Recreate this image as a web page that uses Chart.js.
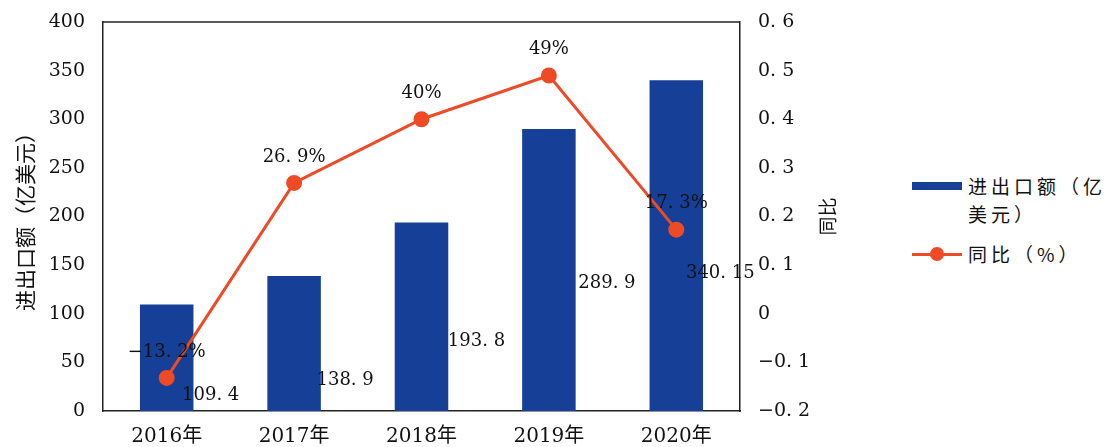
<!DOCTYPE html>
<html>
<head>
<meta charset="utf-8">
<script src="https://cdn.jsdelivr.net/npm/chart.js@4.4.0/dist/chart.umd.min.js"></script>
<style>
html,body{margin:0;padding:0;background:#fff;}
#wrap{position:relative;width:1113px;height:447px;}
#box{position:absolute;left:0;top:0;width:850px;height:447px;}
#legend{position:absolute;left:912px;top:172px;font-family:"Noto Sans CJK SC",sans-serif;font-size:19px;color:#111;}
.row{display:flex;align-items:flex-start;}
.sw{width:50px;flex:none;margin-right:6px;position:relative;height:28px;}
.txt{line-height:28px;width:150px;letter-spacing:4px;}
</style>
</head>
<body>
<div id="wrap">
<div id="box"><canvas id="chartCanvas"></canvas></div>
<div id="legend">
  <div class="row"><div class="sw"><div style="position:absolute;left:0;top:10px;width:50px;height:8px;background:#163f98;"></div></div><div class="txt">进出口额（亿<br>美元）</div></div>
  <div class="row" style="margin-top:12px;"><div class="sw"><div style="position:absolute;left:0;top:13px;width:50px;height:3px;background:#ef4a26;"></div><div style="position:absolute;left:18px;top:7px;width:14px;height:14px;border-radius:7px;background:#ef4a26;"></div></div><div class="txt">同比（%）</div></div>
</div>
</div>
<script>
const years = ['2016年','2017年','2018年','2019年','2020年'];
const tradeValues = [109.4, 138.9, 193.8, 289.9, 340.15];
const tradeLabels = ['109. 4','138. 9','193. 8','289. 9','340. 15'];
const growthValues = [-0.132, 0.269, 0.40, 0.49, 0.173];
const growthLabels = ['−13. 2%','26. 9%','40%','49%','17. 3%'];

// where the bar value labels sit, relative to each bar top (px)
const barLabelShift = [[44,91],[51,104],[55,119],[58,154],[44,193]];

const serif = '"DejaVu Serif","Liberation Serif",serif';
const cjk = '"Noto Sans CJK SC",sans-serif';

const labelPlugin = {
    id:'labels',
    afterDatasetsDraw(chart){
        const c = chart.ctx;
        const a = chart.chartArea;
        c.save();
        c.strokeStyle = '#222';
        c.lineWidth = 1.5;
        c.beginPath();
        c.moveTo(a.left, a.top);
        c.lineTo(a.right, a.top);
        c.stroke();
        c.fillStyle = '#111';
        c.font = '18px ' + serif;
        c.textAlign = 'center';
        c.textBaseline = 'middle';
        chart.getDatasetMeta(1).data.forEach((bar,i)=>{
            c.fillText(tradeLabels[i], bar.x + barLabelShift[i][0], bar.y + barLabelShift[i][1]);
        });
        chart.getDatasetMeta(0).data.forEach((pt,i)=>{
            c.fillText(growthLabels[i], pt.x, pt.y - 26);
        });
        // right axis title, reading bottom to top
        c.translate(a.right + 88, (a.top + a.bottom) / 2);
        c.rotate(-Math.PI / 2);
        c.font = '19px ' + cjk;
        c.fillText('同比', 0, 0);
        c.restore();
    }
};

const fixY = w => s => { s.width = w; s.paddingTop = 0; s.paddingBottom = 0; };

const ctx = document.getElementById('chartCanvas').getContext('2d');
const chart = new Chart(ctx, {
    type: 'bar',
    data: {
        labels: years,
        datasets: [
            { type:'line', label:'同比（%）', data: growthValues, yAxisID:'y1', borderColor:'#ef4a26', backgroundColor:'#ef4a26', borderWidth:3, pointRadius:6.5, pointHoverRadius:6.5, order:0 },
            { type:'bar', label:'进出口额（亿美元）', data: tradeValues, yAxisID:'y', backgroundColor:'#163f98', categoryPercentage:0.84, barPercentage:0.5, order:1 }
        ]
    },
    options: {
        responsive: true,
        maintainAspectRatio: false,
        animation: false,
        layout: { padding: { top: 22, right: 0, left: 0, bottom: 0 } },
        plugins: { legend: { display:false }, tooltip: { enabled:false } },
        scales: {
            x: {
                afterFit: s => { s.height = 36; s.paddingLeft = 0; s.paddingRight = 0; },
                grid: { display:false, drawTicks:false },
                border: { color:'#222', width:1.5 },
                ticks: { color:'#111', font:{ size:20, family: serif + ',"Noto Sans CJK SC"' }, padding:14 }
            },
            y: {
                position:'left', min:0, max:400,
                afterFit: fixY(103),
                grid: { display:false, drawTicks:false },
                border: { color:'#222', width:1.5 },
                ticks: { stepSize:50, color:'#111', font:{ size:19, family: serif }, padding:18 },
                title: { display:true, text:'进出口额（亿美元）', color:'#111', font:{ size:21, family: cjk }, padding:{ top:12, bottom:4 } }
            },
            y1: {
                position:'right', min:-0.2, max:0.6,
                afterFit: fixY(110),
                grid: { display:false, drawTicks:false },
                border: { color:'#222', width:1.5 },
                ticks: { stepSize:0.1, color:'#111', font:{ size:19, family: serif }, padding:18,
                    callback: v => { const r = Math.round(v*10)/10; return r === 0 ? '0' : r.toFixed(1).replace('.', '. ').replace('-', '−'); } }
            }
        }
    },
    plugins: [labelPlugin]
});
</script>
</body>
</html>
